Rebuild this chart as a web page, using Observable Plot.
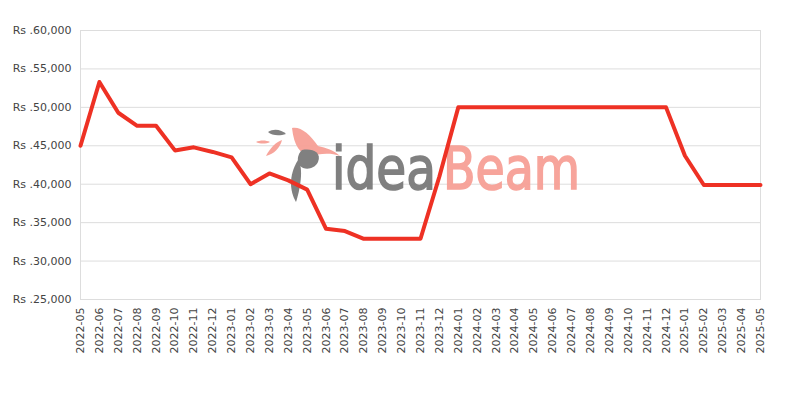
<!DOCTYPE html>
<html>
<head>
<meta charset="utf-8">
<script src="https://cdn.jsdelivr.net/npm/d3@7"></script>
<script src="https://cdn.jsdelivr.net/npm/@observablehq/plot@0.6"></script>
<style>
  html, body { margin: 0; padding: 0; background: #fff; }
  #chart svg { display: block; }
</style>
</head>
<body>
<div id="chart"></div>
<script>
const months = ["2022-05","2022-06","2022-07","2022-08","2022-09","2022-10","2022-11","2022-12",
  "2023-01","2023-02","2023-03","2023-04","2023-05","2023-06","2023-07","2023-08","2023-09","2023-10","2023-11","2023-12",
  "2024-01","2024-02","2024-03","2024-04","2024-05","2024-06","2024-07","2024-08","2024-09","2024-10","2024-11","2024-12",
  "2025-01","2025-02","2025-03","2025-04","2025-05"];
const prices = [44999, 53299, 49299, 47599, 47599, 44399, 44799, 44199,
  43499, 39999, 41399, 40499, 39299, 34199, 33899, 32899, 32899, 32899, 32899, 40999,
  49999, 49999, 49999, 49999, 49999, 49999, 49999, 49999, 49999, 49999, 49999, 49999,
  43699, 39899, 39899, 39899, 39899];
const yTicks = [25000, 30000, 35000, 40000, 45000, 50000, 55000, 60000];

const data = months.map((m, i) => ({month: m, price: prices[i]}));
const fmt = d3.format(",");

const chart = Plot.plot({
  width: 800,
  height: 400,
  marginTop: 30,
  marginLeft: 80,
  marginRight: 40,
  marginBottom: 101,
  style: {fontFamily: "DejaVu Sans", fontSize: "11px", color: "#444", background: "#fff"},
  x: {type: "point", domain: months, padding: 0, label: null},
  y: {domain: [25000, 60000], label: null},
  marks: [
    Plot.gridY(yTicks, {stroke: "#ddd", strokeOpacity: 1}),
    Plot.frame({stroke: "#ddd"}),
    Plot.axisY(yTicks, {tickSize: 0, tickPadding: 9, tickFormat: d => "Rs ." + fmt(d), fill: "#444"}),
    Plot.axisX(months, {tickSize: 0, tickPadding: 8, tickRotate: -90, fill: "#444"}),
    Plot.line(data, {x: "month", y: "price", stroke: "#ee3124", strokeWidth: 4})
  ]
});
document.getElementById("chart").appendChild(chart);

// watermark, inserted below the line
const svg = d3.select(chart);
const wm = svg.insert("g", "[aria-label=line]").attr("opacity", 0.95).attr("text-anchor", "start");
const word = (x, len, fill, s) => wm.append("text")
  .attr("x", x).attr("y", 189)
  .attr("text-anchor", "start")
  .attr("font-family", "DejaVu Sans Condensed, DejaVu Sans")
  .attr("font-size", 58)
  .attr("fill", fill)
  .attr("stroke", fill)
  .attr("stroke-width", 1.6)
  .attr("textLength", len)
  .attr("lengthAdjust", "spacingAndGlyphs")
  .text(s);
word(332, 104, "#7a7a7a", "idea");
word(443, 137, "#f7a096", "Beam");
// simple bird mark
wm.append("path").attr("d", "M292,128 C300,126 310,134 318,146 C326,148 334,150 340,156 C330,152 318,154 310,156 C300,154 294,146 292,128 Z").attr("fill", "#f7a096");
wm.append("path").attr("d", "M302,150 C312,148 322,152 318,162 C314,170 304,170 300,166 C296,160 298,154 302,150 Z").attr("fill", "#7a7a7a");
wm.append("path").attr("d", "M298,160 C304,168 300,190 296,202 C290,192 288,176 298,160 Z").attr("fill", "#7a7a7a");
wm.append("path").attr("d", "M268,132 C274,128 282,130 286,134 C280,136 272,136 268,132 Z").attr("fill", "#7a7a7a");
wm.append("path").attr("d", "M266,156 C270,148 276,142 282,140 C280,148 274,154 266,156 Z").attr("fill", "#f7a096");
wm.append("path").attr("d", "M256,142 C260,140 266,140 270,142 C266,144 260,144 256,142 Z").attr("fill", "#f7a096");
</script>
</body>
</html>
